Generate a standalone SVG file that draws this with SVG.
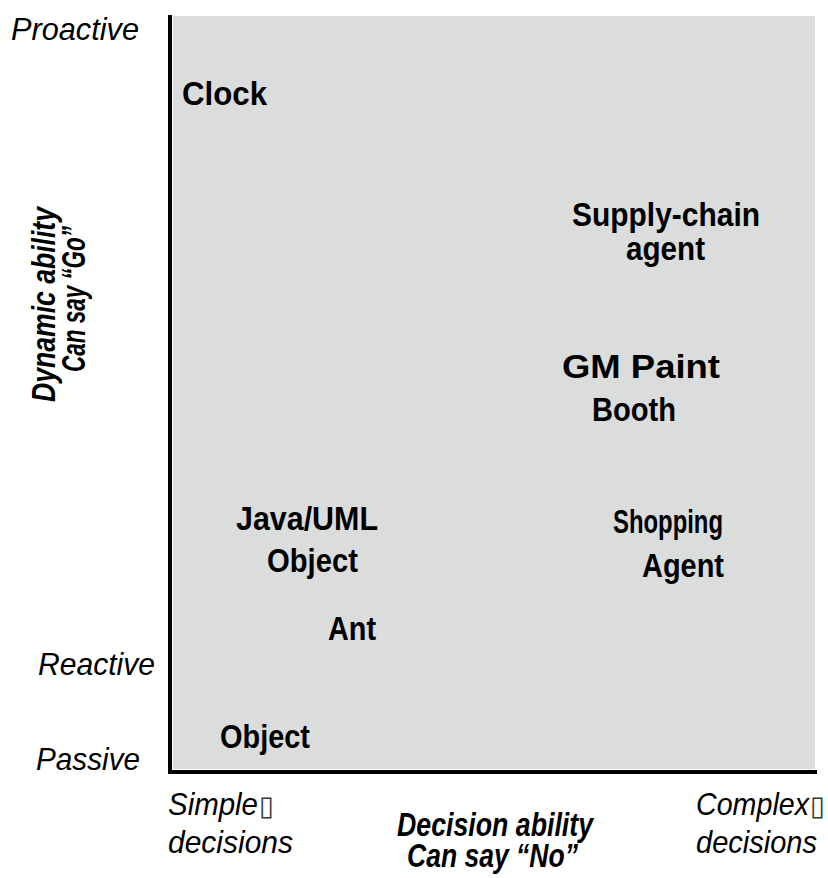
<svg xmlns="http://www.w3.org/2000/svg" width="828" height="878" viewBox="0 0 828 878">
  <style>
    .node { font-family: "Liberation Sans", Arial, sans-serif; font-weight: bold; font-size: 33px; fill: #000; }
    .level { font-family: "Liberation Sans", Arial, sans-serif; font-style: italic; font-size: 32px; fill: #000; }
    .title { font-family: "Liberation Sans", Arial, sans-serif; font-weight: bold; font-style: italic; font-size: 33px; fill: #000; }
    .box { font-family: "DejaVu Sans", sans-serif; font-style: normal; font-size: 27px; fill: #333; }
    .axis { stroke: #000; stroke-width: 4; fill: none; }
    .axis-inner { stroke: #ffffff; stroke-width: 1; fill: none; }
  </style>

  <rect width="828" height="878" fill="#ffffff"/>

  <!-- plot area -->
  <rect id="plot-area" x="172" y="16" width="643" height="755" fill="#dbdcdc"/>

  <!-- axes -->
  <g id="axes">
    <line class="axis" x1="170" y1="15" x2="170" y2="774"/>
    <line class="axis" x1="168" y1="772" x2="817" y2="772"/>
    <line class="axis-inner" x1="172.5" y1="16" x2="172.5" y2="769.5"/>
    <line class="axis-inner" x1="172.5" y1="769.5" x2="815" y2="769.5"/>
  </g>

  <!-- vertical scale labels -->
  <g id="y-levels" class="level">
    <text x="11" y="40" textLength="128" lengthAdjust="spacingAndGlyphs">Proactive</text>
    <text x="38" y="675" textLength="117" lengthAdjust="spacingAndGlyphs">Reactive</text>
    <text x="36" y="770" textLength="104" lengthAdjust="spacingAndGlyphs">Passive</text>
  </g>

  <!-- horizontal scale labels -->
  <g id="x-levels" class="level">
    <text x="168" y="815"><tspan textLength="90" lengthAdjust="spacingAndGlyphs">Simple</tspan><tspan class="box" dx="1">▯</tspan></text>
    <text x="168" y="853" textLength="125" lengthAdjust="spacingAndGlyphs">decisions</text>
    <text x="696" y="815"><tspan textLength="113" lengthAdjust="spacingAndGlyphs">Complex</tspan><tspan class="box" dx="1">▯</tspan></text>
    <text x="696" y="853" textLength="121" lengthAdjust="spacingAndGlyphs">decisions</text>
  </g>

  <!-- axis titles -->
  <g id="y-title" class="title">
    <text transform="translate(55,402) rotate(-90)" textLength="195" lengthAdjust="spacingAndGlyphs">Dynamic ability</text>
    <text transform="translate(85,372) rotate(-90)" textLength="146" lengthAdjust="spacingAndGlyphs">Can say “Go”</text>
  </g>
  <g id="x-title" class="title">
    <text x="397" y="836" textLength="196" lengthAdjust="spacingAndGlyphs">Decision ability</text>
    <text x="407" y="867" textLength="171" lengthAdjust="spacingAndGlyphs">Can say “No”</text>
  </g>

  <!-- plotted entities -->
  <g id="clock" class="node">
    <text x="182" y="105" textLength="85" lengthAdjust="spacingAndGlyphs">Clock</text>
  </g>
  <g id="supply-chain-agent" class="node">
    <text x="572" y="226" textLength="188" lengthAdjust="spacingAndGlyphs">Supply-chain</text>
    <text x="626" y="260" textLength="79" lengthAdjust="spacingAndGlyphs">agent</text>
  </g>
  <g id="gm-paint-booth" class="node">
    <text x="562" y="378" textLength="158" lengthAdjust="spacingAndGlyphs">GM Paint</text>
    <text x="592" y="421" textLength="84" lengthAdjust="spacingAndGlyphs">Booth</text>
  </g>
  <g id="java-uml-object" class="node">
    <text x="236" y="530" textLength="142" lengthAdjust="spacingAndGlyphs">Java/UML</text>
    <text x="267" y="572" textLength="91" lengthAdjust="spacingAndGlyphs">Object</text>
  </g>
  <g id="shopping-agent" class="node">
    <text x="613" y="533" textLength="110" lengthAdjust="spacingAndGlyphs">Shopping</text>
    <text x="642" y="577" textLength="82" lengthAdjust="spacingAndGlyphs">Agent</text>
  </g>
  <g id="ant" class="node">
    <text x="328" y="640" textLength="48" lengthAdjust="spacingAndGlyphs">Ant</text>
  </g>
  <g id="object" class="node">
    <text x="220" y="748" textLength="90" lengthAdjust="spacingAndGlyphs">Object</text>
  </g>
</svg>
